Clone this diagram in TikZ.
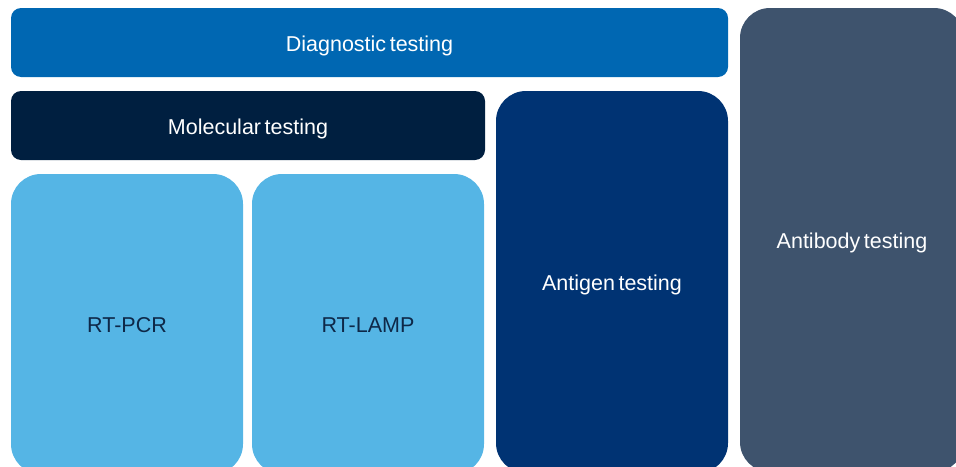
\documentclass[tikz,border=0pt]{standalone}
\usepackage{fontspec}
\setmainfont{Liberation Sans}[WordSpace=0.6]
\usepackage{tikz}
\usepackage{xcolor}
\definecolor{diagblue}{RGB}{0,103,178}
\definecolor{molnavy}{RGB}{0,31,64}
\definecolor{pcrblue}{RGB}{85,181,229}
\definecolor{antinavy}{RGB}{0,51,115}
\definecolor{abslate}{RGB}{62,83,109}
\definecolor{pcrtext}{RGB}{14,40,72}

\begin{document}
\begin{tikzpicture}[x=1pt,y=-1pt]
\tikzstyle{every node}+=[inner sep=0pt,text height=17pt,text depth=0pt,font=\fontsize{21.5}{25}\selectfont]
\tikzstyle{bar}=[rounded corners=10pt,text=white]
\tikzstyle{tile}=[rounded corners=30pt]
\useasboundingbox (0,0) rectangle (956,466);
% top bars
\node [bar,fill=diagblue,minimum width=717pt,minimum height=69pt] (diag) at (369.5,42.5) {Diagnostic testing};
\node [bar,fill=molnavy,minimum width=474pt,minimum height=69pt] (mol) at (248,125.5) {Molecular testing};
% molecular methods
\node [tile,fill=pcrblue,text=pcrtext,minimum width=232pt,minimum height=300pt] (pcr) at (127,324) {RT-PCR};
\node [tile,fill=pcrblue,text=pcrtext,minimum width=232pt,minimum height=300pt] (lamp) at (368,324) {RT-LAMP};
% other tests
\node [tile,fill=antinavy,text=white,minimum width=232pt,minimum height=382pt] (antigen) at (612,282) {Antigen testing};
\node [tile,fill=abslate,text=white,minimum width=224pt,minimum height=464pt] (antibody) at (852,240) {Antibody testing};
\end{tikzpicture}
\end{document}
